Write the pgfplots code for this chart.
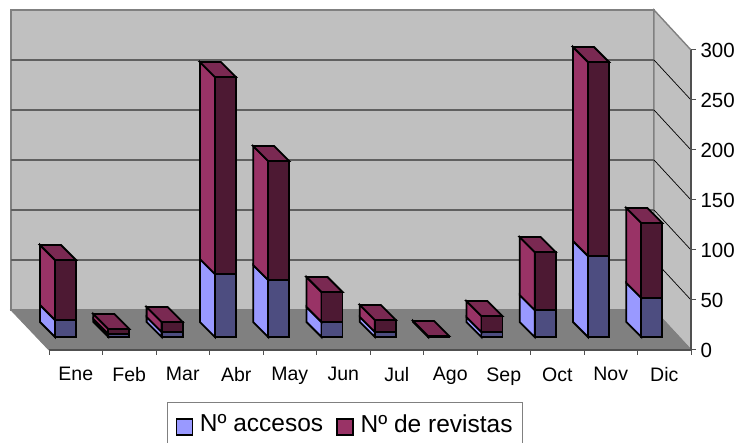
\documentclass[border=0pt]{standalone}
\usepackage{fontspec}
\setmainfont{Liberation Sans}
\usepackage{pgfplots}
\usepackage{pgfplotstable}
\pgfplotsset{compat=1.18}
\definecolor{wall}{HTML}{C0C0C0}
\definecolor{floorc}{HTML}{808080}
\definecolor{gridc}{HTML}{606060}
\definecolor{axisc}{HTML}{505050}
\definecolor{accl}{HTML}{9999FF}
\definecolor{accd}{HTML}{4D4D80}
\definecolor{revl}{HTML}{993366}
\definecolor{revt}{HTML}{7A2952}
\definecolor{revd}{HTML}{4D1933}

\pgfplotstableread{
idx acc rev
0   17  60
1   3   5
2   5   10
3   63  197
4   57  119
5   15  30
6   5   12
7   0.5 0.5
8   5   16
9   27  58
10  81  194
11  39  75
}\bardata

% one face of a column, four corners in axis units
\newcommand\face[9]{\addplot[forget plot,fill=#1,draw=black,line width=1.8pt,line join=miter] coordinates {(#2,#3)(#4,#5)(#6,#7)(#8,#9)} --cycle;}

\begin{document}
\begin{tikzpicture}
\useasboundingbox (0,0) rectangle (737pt,443pt);
\begin{axis}[
    at={(49pt,93pt)}, anchor=south west,
    x=1pt, y=1pt,
    xmin=0, xmax=642, ymin=0, ymax=300,
    clip=false, axis on top,
    axis x line=bottom, axis y line=right,
    axis line style={-,draw=axisc,line width=1.4pt},
    xtick={26.75,80.25,133.75,187.25,240.75,294.25,347.75,401.25,454.75,508.25,561.75,615.25},
    xticklabels={Ene,Feb,Mar,Abr,May,Jun,Jul,Ago,Sep,Oct,Nov,Dic},
    minor xtick={0,53.5,107,160.5,214,267.5,321,374.5,428,481.5,535,588.5,642},
    major x tick style={draw=none},
    minor x tick style={draw=axisc,line width=1pt},
    minor tick length=5pt,
    ytick={0,50,...,300},
    y tick style={draw=axisc,line width=1pt},
    major tick length=5pt,
    tick align=outside,
    xticklabel style={font=\fontsize{19.5}{22}\selectfont,yshift=-9pt},
    yticklabel style={font=\fontsize{20.5}{22}\selectfont,xshift=1pt},
    /pgf/number format/assume math mode=true,
    legend columns=2,
    legend style={at={(axis cs:118,-52)},anchor=north west,draw=floorc,line width=1pt,
      font=\fontsize{24.5}{28}\selectfont,inner xsep=8pt,inner ysep=10pt,
      /tikz/every even column/.style={column sep=11pt}},
    legend image code/.code={\draw[#1,line width=1.8pt] (0pt,-11pt) rectangle (16pt,5pt);\path (21pt,0pt);},
]
% walls and floor
\addplot[forget plot,fill=wall,draw=floorc,line width=1.4pt] coordinates {(-38,40)(605,40)(605,340)(-38,340)} --cycle;
\addplot[forget plot,fill=wall,draw=floorc,line width=1.4pt] coordinates {(605,40)(642,0)(642,300)(605,340)} --cycle;
\addplot[forget plot,fill=floorc,draw=floorc,line width=1pt] coordinates {(-38,40)(605,40)(642,0)(0,0)} --cycle;
% gridlines on the back and on the side
\pgfplotsinvokeforeach{50,100,150,200,250}{
  \pgfmathsetmacro\gy{#1+40}
  \addplot[forget plot,draw=gridc,line width=1.4pt] coordinates {(-38,\gy)(605,\gy)};
  \addplot[forget plot,draw=black,line width=0.7pt] coordinates {(605,\gy)(642,#1)};
}
% columns, left to right
\pgfplotsinvokeforeach{0,...,11}{
  \pgfplotstablegetelem{#1}{acc}\of\bardata \let\va\pgfplotsretval
  \pgfplotstablegetelem{#1}{rev}\of\bardata \let\vr\pgfplotsretval
  \pgfmathsetmacro\xa{6+53.3*#1}
  \pgfmathsetmacro\xb{\xa-15}
  \pgfmathsetmacro\xc{\xa+21}
  \pgfmathsetmacro\xd{\xc-15}
  \pgfmathsetmacro\ya{13}
  \pgfmathsetmacro\yb{13+\va}
  \pgfmathsetmacro\yc{13+\va+\vr}
  \pgfmathsetmacro\yab{\ya+15}
  \pgfmathsetmacro\ybb{\yb+15}
  \pgfmathsetmacro\ycb{\yc+15}
  \face{accl}{\xa}{\ya}{\xa}{\yb}{\xb}{\ybb}{\xb}{\yab}
  \face{accd}{\xa}{\ya}{\xc}{\ya}{\xc}{\yb}{\xa}{\yb}
  \face{revl}{\xa}{\yb}{\xa}{\yc}{\xb}{\ycb}{\xb}{\ybb}
  \face{revd}{\xa}{\yb}{\xc}{\yb}{\xc}{\yc}{\xa}{\yc}
  \face{revt}{\xa}{\yc}{\xc}{\yc}{\xd}{\ycb}{\xb}{\ycb}
}
\addlegendimage{fill=accl,draw=black}
\addlegendentry{Nº accesos}
\addlegendimage{fill=revl,draw=black}
\addlegendentry{Nº de revistas\hspace{5pt}}
\end{axis}
\end{tikzpicture}
\end{document}
